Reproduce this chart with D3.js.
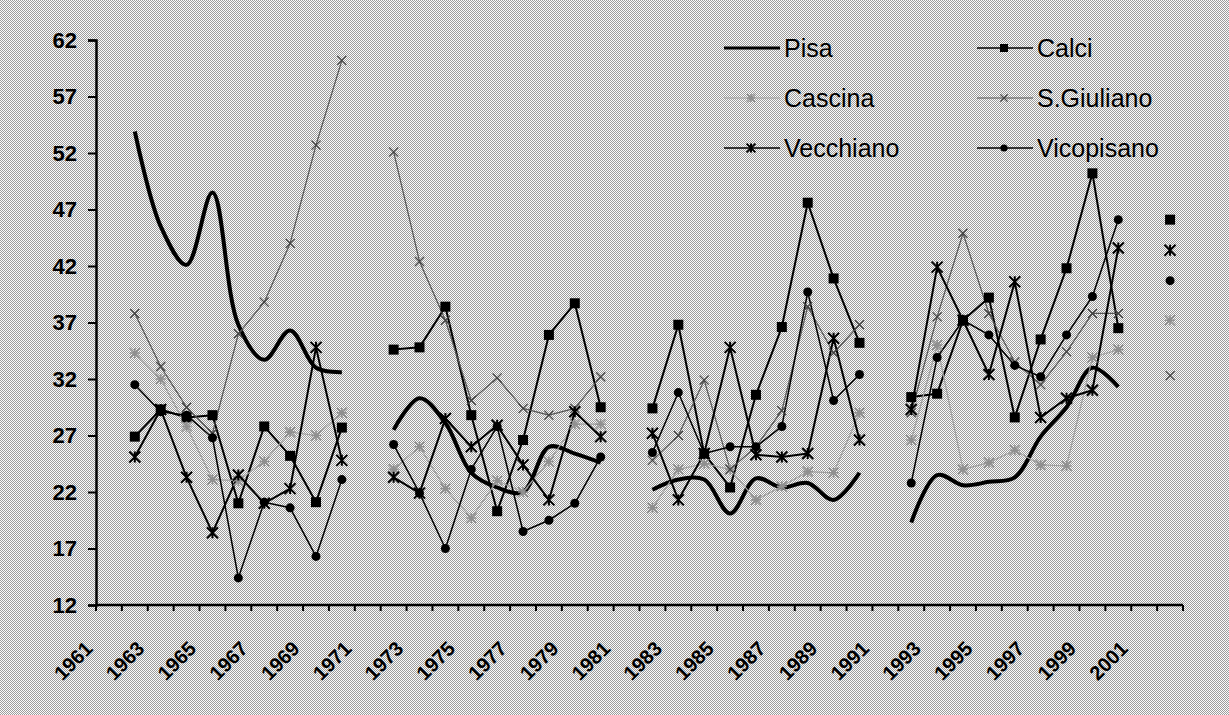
<!DOCTYPE html>
<html><head><meta charset="utf-8">
<script src="https://cdn.jsdelivr.net/npm/d3@7"></script>
<style>
html,body{margin:0;padding:0;background:#cacaca;}
svg{display:block;}
text{font-family:"Liberation Sans",Arial,sans-serif;fill:#000;}
</style></head>
<body>
<svg id="chart" width="1229" height="715"></svg>
<script>
// ---------- data ----------
const categories = d3.range(1961, 2003);            // 1961 .. 2002
const dataYears = d3.range(1962, 2003);              // 1962 .. 2002
const tickLabels = d3.range(1961, 2002, 2);          // 1961, 1963, ... 2001
const yTicks = [12,17,22,27,32,37,42,47,52,57,62];

const pisa = [53.9,45.5,42.1,48.5,36.8,33.7,36.3,33.0,32.6, null,
  27.5,30.3,28.1,23.7,22.4,22.0,26.0,25.4,24.6, null,
  22.2,23.1,23.1,20.1,23.2,22.4,22.8,21.3,23.7, null,
  19.3,23.5,22.6,22.9,23.3,26.9,29.5,33.0,31.3, null, null];
const calci = [26.9,29.3,28.6,28.8,21.0,27.8,25.2,21.1,27.7, null,
  34.6,34.8,38.4,28.8,20.3,26.6,35.9,38.7,29.5, null,
  29.4,36.8,25.4,22.4,30.6,36.6,47.6,40.9,35.2, null,
  30.4,30.7,37.2,39.2,28.6,35.5,41.8,50.2,36.5, null, 46.1];
const cascina = [34.3,32.0,27.8,23.1,23.0,24.7,27.3,27.0,29.0, null,
  24.0,26.0,22.3,19.7,23.0,22.0,24.7,28.0,28.0, null,
  20.6,24.0,24.5,24.0,21.3,22.5,23.8,23.7,29.0, null,
  26.6,35.0,24.0,24.6,25.7,24.4,24.3,33.9,34.6, null, 37.2];
const sgiuliano = [37.8,33.1,29.5,27.2,36.0,38.8,44.0,52.7,60.2, null,
  52.1,42.4,37.2,30.1,32.1,29.4,28.8,29.4,32.2, null,
  24.8,27.0,31.9,24.0,26.0,29.2,38.4,34.3,36.8, null,
  29.0,37.5,44.9,37.8,33.5,31.5,34.4,37.8,37.8, null, 32.3];
const vecchiano = [25.1,29.3,23.3,18.4,23.5,21.0,22.3,34.8,24.8, null,
  23.3,21.9,28.5,26.0,27.9,24.4,21.3,29.1,26.9, null,
  27.2,21.3,25.4,34.8,25.3,25.1,25.4,35.6,26.6, null,
  29.3,41.9,37.2,32.4,40.6,28.6,30.3,31.0,43.6, null, 43.4];
const vicopisano = [31.5,29.1,28.8,26.8,14.4,21.1,20.6,16.3,23.1, null,
  26.2,21.9,17.0,24.0,27.8,18.5,19.5,21.0,25.1, null,
  25.5,30.8,25.4,26.0,26.0,27.8,39.7,30.1,32.4, null,
  22.8,33.9,37.2,35.9,33.2,32.2,35.9,39.3,46.1, null, 40.7];

const seriesNames = ["Pisa","Calci","Cascina","S.Giuliano","Vecchiano","Vicopisano"];
const seriesValues = [pisa, calci, cascina, sgiuliano, vecchiano, vicopisano];

(function draw() {
const styles = {
  "Pisa":       {color:"#000", width:4,   marker:"none",   curve:d3.curveCatmullRom.alpha(0.5)},
  "Calci":      {color:"#000", width:2,   marker:"square", curve:d3.curveLinear},
  "Cascina":    {color:"#a0a0a0", width:1.2, marker:"star", mcolor:"#909090", curve:d3.curveLinear},
  "S.Giuliano": {color:"#555", width:1.2, marker:"x",      mcolor:"#444", curve:d3.curveLinear},
  "Vecchiano":  {color:"#000", width:2,   marker:"xbar",   curve:d3.curveLinear},
  "Vicopisano": {color:"#000", width:1.5, marker:"dot",    curve:d3.curveLinear}
};

const svg = d3.select("#chart");
const W = 1229, H = 715;
const pL = 96, pR = 1183, pT = 40, pB = 605;

// dithered background
const defs = svg.append("defs");
const pat = defs.append("pattern").attr("id","dither").attr("width",2).attr("height",2)
  .attr("patternUnits","userSpaceOnUse");
pat.append("rect").attr("width",2).attr("height",2).attr("fill","#fbfbfb");
pat.append("rect").attr("x",0).attr("y",0).attr("width",1).attr("height",1).attr("fill","#9c9c9c");
pat.append("rect").attr("x",1).attr("y",1).attr("width",1).attr("height",1).attr("fill","#9c9c9c");
svg.append("rect").attr("width",W).attr("height",H).attr("fill","url(#dither)");

// scales
const xBand = d3.scaleBand().domain(categories).range([pL, pR]);
const x = d3.scalePoint().domain(categories).range([pL, pR]).padding(0.5);
const y = d3.scaleLinear().domain([12, 62]).range([pB, pT]);

// y axis
const yAxis = svg.append("g").attr("transform", `translate(${pL},0)`)
  .call(d3.axisLeft(y).tickValues(yTicks).tickSize(8).tickPadding(11).tickFormat(d3.format("d")));
yAxis.select(".domain").attr("stroke","#000").attr("stroke-width",2.5);
yAxis.selectAll(".tick line").attr("stroke","#000").attr("stroke-width",2);
yAxis.selectAll(".tick text").style("font-size","22px").style("font-weight","bold")
  .style("font-family","'Liberation Sans',Arial,sans-serif").attr("fill","#000");

// x axis line & ticks at category boundaries
const xg = svg.append("g");
xg.append("line").attr("x1",pL).attr("x2",pR).attr("y1",pB).attr("y2",pB)
  .attr("stroke","#000").attr("stroke-width",2.5);
xg.selectAll("line.tk").data(categories.concat([null])).join("line").attr("class","tk")
  .attr("x1", d => d===null ? pR : xBand(d)).attr("x2", d => d===null ? pR : xBand(d))
  .attr("y1", pB).attr("y2", pB+6).attr("stroke","#000").attr("stroke-width",2);
xg.selectAll("text.lbl").data(tickLabels).join("text").attr("class","lbl")
  .attr("transform", d => `translate(${x(d)-15},${650}) rotate(-45)`)
  .attr("text-anchor","end").style("font-size","20px").style("font-weight","bold").text(d => d);

// series lines
const plot = svg.append("g");
seriesNames.forEach((name, si) => {
  const st = styles[name];
  const pts = dataYears.map((yr, i) => ({yr, v: seriesValues[si][i]}));
  const line = d3.line().defined(d => d.v !== null).x(d => x(d.yr)).y(d => y(d.v)).curve(st.curve);
  plot.append("path").datum(pts).attr("d", line).attr("fill","none")
    .attr("stroke", st.color).attr("stroke-width", st.width).attr("stroke-linejoin","round");
});

function drawMarker(g, type, cx, cy, st, s) {
  const mc = st.mcolor || st.color;
  const h = s/2;
  if (type === "square") {
    g.append("rect").attr("x",cx-h).attr("y",cy-h).attr("width",s).attr("height",s).attr("fill",mc);
  } else if (type === "dot") {
    g.append("circle").attr("cx",cx).attr("cy",cy).attr("r",h).attr("fill",mc);
  } else if (type === "x") {
    g.append("path").attr("d",`M${cx-h},${cy-h}L${cx+h},${cy+h}M${cx-h},${cy+h}L${cx+h},${cy-h}`)
      .attr("stroke",mc).attr("stroke-width",1.3).attr("fill","none");
  } else if (type === "xbar") {
    g.append("path").attr("d",`M${cx-h},${cy-h}L${cx+h},${cy+h}M${cx-h},${cy+h}L${cx+h},${cy-h}M${cx},${cy-h}L${cx},${cy+h}`)
      .attr("stroke",mc).attr("stroke-width",2).attr("fill","none");
  } else if (type === "star") {
    g.append("path").attr("d",`M${cx-h},${cy-h}L${cx+h},${cy+h}M${cx-h},${cy+h}L${cx+h},${cy-h}M${cx},${cy-h}L${cx},${cy+h}M${cx-h},${cy}L${cx+h},${cy}`)
      .attr("stroke",mc).attr("stroke-width",1.6).attr("fill","none");
  }
}
const msize = {square:10, dot:9, x:9, xbar:11, star:10};
seriesNames.forEach((name, si) => {
  const st = styles[name];
  if (st.marker === "none") return;
  const g = plot.append("g");
  dataYears.forEach((yr, i) => {
    const v = seriesValues[si][i];
    if (v === null) return;
    drawMarker(g, st.marker, x(yr), y(v), st, msize[st.marker]);
  });
});

// legend
const legendPos = [[724,48],[977,48],[724,98],[977,98],[724,148],[977,148]];
const lg = svg.append("g");
seriesNames.forEach((name, i) => {
  const st = styles[name];
  const [lx, ly] = legendPos[i];
  lg.append("line").attr("x1",lx).attr("x2",lx+56).attr("y1",ly).attr("y2",ly)
    .attr("stroke",st.color).attr("stroke-width", name==="Pisa" ? 3 : Math.min(st.width,1.5));
  if (st.marker !== "none") drawMarker(lg, st.marker, lx+27, ly, st, msize[st.marker]*0.8);
  lg.append("text").attr("x",lx+60).attr("y",ly+9).style("font-size","25px").text(name);
});
})();
</script>
</body></html>
